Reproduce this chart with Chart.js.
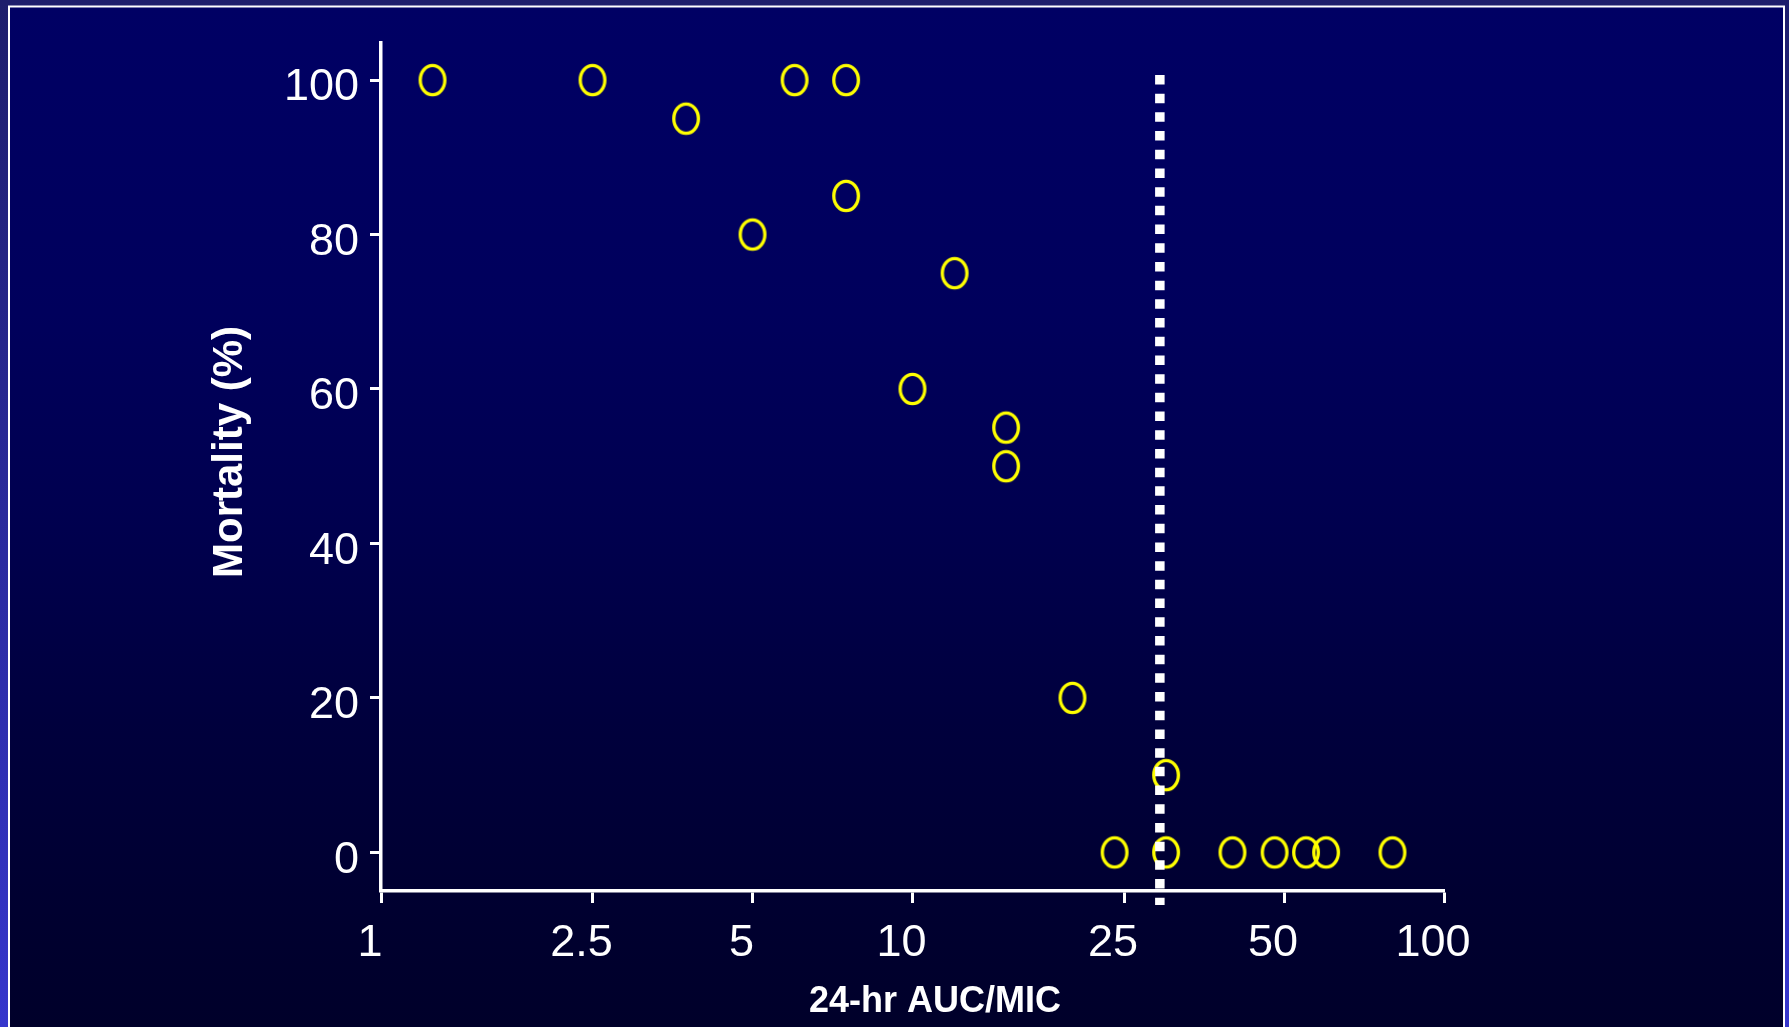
<!DOCTYPE html>
<html>
<head>
<meta charset="utf-8">
<script src="https://cdn.jsdelivr.net/npm/chart.js@4"></script>
<style>
  html, body { margin: 0; padding: 0; background: #000033; overflow: hidden; }
  canvas { display: block; }
</style>
</head>
<body>
<canvas id="chart" width="1789" height="1027"></canvas>
<script>
// 24-hr AUC/MIC exposure against mortality, one point per group
const aucMic    = [1.25, 2.5, 3.75, 5, 6, 7.5, 7.5, 10, 12, 15, 15, 20, 24, 30, 30, 40, 48, 55, 60, 80];
const mortality = [100, 100, 95, 80, 100, 100, 85, 60, 75, 55, 50, 20, 0, 10, 0, 0, 0, 0, 0, 0];

// axis ticks
const xTicks = [1, 2.5, 5, 10, 25, 50, 100];
const xTickLabels = ['1', '2.5', '5', '10', '25', '50', '100'];
const yTicks = [0, 20, 40, 60, 80, 100];

// dotted breakpoint line: AUC/MIC value and the mortality span it covers
const breakpointX = 29.2;
const breakpointSpan = [100.66, -6.8];

const FONT = '"Liberation Sans", Arial, Helvetica, sans-serif';

// open yellow ellipse used as the point marker
function ringMarker() {
  const c = document.createElement('canvas');
  c.width = 34; c.height = 38;
  const g = c.getContext('2d');
  g.strokeStyle = '#ffff00';
  g.lineWidth = 3.3;
  g.beginPath();
  g.ellipse(17, 19, 12.3, 14.7, 0, 0, Math.PI * 2);
  g.stroke();
  return c;
}

// slide background: blue edge, white frame, dark navy gradient panel
const slideBackground = {
  id: 'slideBackground',
  beforeDraw(chart) {
    const { ctx, width, height } = chart;
    ctx.save();
    let g = ctx.createLinearGradient(0, 0, 0, height);
    g.addColorStop(0, '#1e1e6c');
    g.addColorStop(1, '#3636cc');
    ctx.fillStyle = g;
    ctx.fillRect(0, 0, width, height);
    ctx.fillStyle = '#ffffff';
    ctx.fillRect(8, 5.5, 1777, height);
    g = ctx.createLinearGradient(0, 7.5, 0, height);
    g.addColorStop(0, '#000064');
    g.addColorStop(0.3, '#00005c');
    g.addColorStop(0.5, '#00004f');
    g.addColorStop(0.7, '#00003d');
    g.addColorStop(0.9, '#00002f');
    g.addColorStop(1, '#00002a');
    ctx.fillStyle = g;
    ctx.fillRect(10, 7.5, 1773, height);
    ctx.restore();
  }
};

// axis captions
const axisCaptions = {
  id: 'axisCaptions',
  afterDraw(chart) {
    const { ctx } = chart;
    ctx.save();
    ctx.fillStyle = '#ffffff';
    ctx.textAlign = 'center';
    ctx.textBaseline = 'alphabetic';
    ctx.font = 'bold 36px ' + FONT;
    ctx.fillText('24-hr AUC/MIC', 935, 1012);
    ctx.translate(241.5, 452);
    ctx.rotate(-Math.PI / 2);
    ctx.font = 'bold 42px ' + FONT;
    ctx.fillText('Mortality (%)', 0, 0);
    ctx.restore();
  }
};

const points = aucMic.map((x, i) => ({ x: x, y: mortality[i] }));

new Chart(document.getElementById('chart'), {
  type: 'scatter',
  data: {
    datasets: [
      {
        label: 'breakpoint',
        data: breakpointSpan.map(y => ({ x: breakpointX, y: y })),
        showLine: true,
        borderColor: '#ffffff',
        borderWidth: 9.5,
        borderDash: [9.5, 9.2],
        borderCapStyle: 'butt',
        pointRadius: 0,
        pointHoverRadius: 0,
        clip: false,
        order: 0
      },
      {
        label: 'Mortality',
        data: points,
        pointStyle: ringMarker(),
        pointRadius: 14,
        pointHoverRadius: 14,
        order: 1
      }
    ]
  },
  options: {
    responsive: false,
    devicePixelRatio: 1,
    animation: false,
    events: [],
    layout: { padding: { left: 0, top: 43, right: 345, bottom: 0 } },
    plugins: {
      legend: { display: false },
      tooltip: { enabled: false },
      title: { display: false }
    },
    scales: {
      x: {
        type: 'logarithmic',
        min: 1,
        max: 100,
        afterBuildTicks: s => { s.ticks = xTicks.map(v => ({ value: v })); },
        afterFit: s => { s.height = 136; },
        ticks: {
          autoSkip: false,
          maxRotation: 0,
          minRotation: 0,
          color: '#ffffff',
          font: { family: FONT, size: 45 },
          padding: 14,
          labelOffset: -11,
          callback: (v, i) => xTickLabels[i]
        },
        grid: {
          drawOnChartArea: false,
          drawTicks: true,
          tickLength: 12,
          tickWidth: 3,
          tickColor: '#ffffff',
          color: '#ffffff'
        },
        border: { display: true, color: '#ffffff', width: 3.5 }
      },
      y: {
        type: 'linear',
        min: -5,
        max: 104.8,
        afterBuildTicks: s => { s.ticks = yTicks.map(v => ({ value: v })); },
        afterFit: s => { s.width = 381; },
        ticks: {
          color: '#ffffff',
          font: { family: FONT, size: 45 },
          padding: 11,
          labelOffset: 8
        },
        grid: {
          drawOnChartArea: false,
          drawTicks: true,
          tickLength: 11,
          tickWidth: 3,
          tickColor: '#ffffff',
          color: '#ffffff'
        },
        border: { display: true, color: '#ffffff', width: 3.5 }
      }
    }
  },
  plugins: [slideBackground, axisCaptions]
});
</script>
</body>
</html>
